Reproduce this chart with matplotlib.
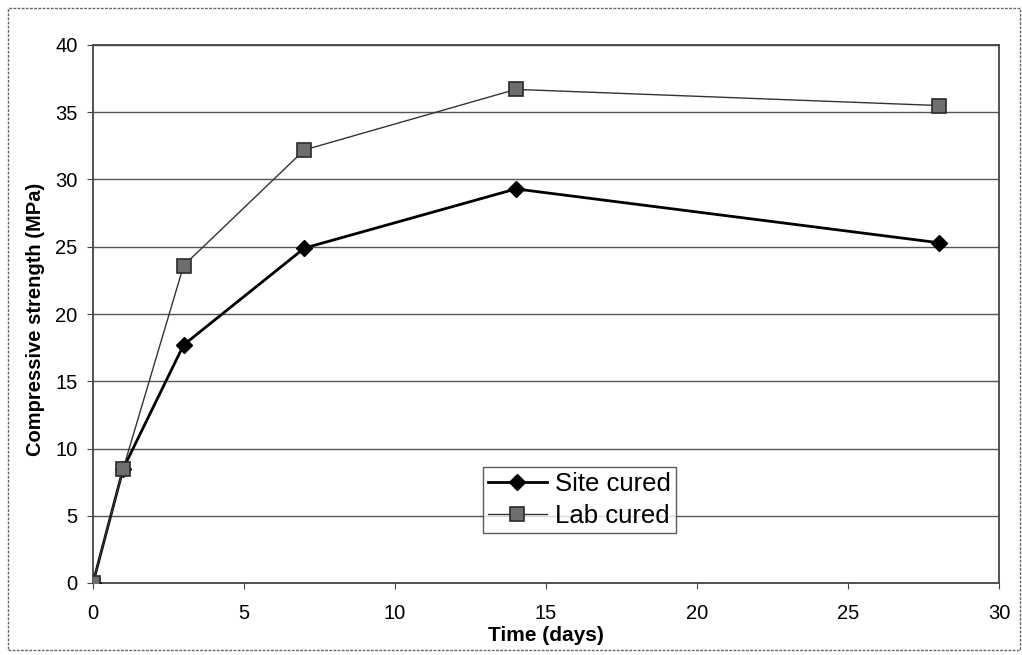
import matplotlib
matplotlib.use('Agg')
import matplotlib.pyplot as plt
from matplotlib.patches import Rectangle

# data
days = [0, 1, 3, 7, 14, 28]
site_cured = [0, 8.5, 17.7, 24.9, 29.3, 25.3]
lab_cured = [0, 8.5, 23.6, 32.2, 36.7, 35.5]

plt.rcParams['font.family'] = ['Liberation Sans', 'DejaVu Sans']

fig = plt.figure(figsize=(10.22, 6.55), dpi=100)
ax = fig.add_axes([93/1022, 1 - 583/655, 906/1022, 538/655])

ax.plot(days, site_cured, color='black', lw=2.0, marker='D', ms=8,
        mfc='black', mec='black', label='Site cured', zorder=3)
ax.plot(days, lab_cured, color='#333333', lw=1.0, marker='s', ms=10,
        mfc='#6e6e6e', mec='#2a2a2a', mew=1.2, label='Lab cured', zorder=4)

ax.set_xlim(0, 30)
ax.set_ylim(0, 40)
ax.set_xticks(range(0, 31, 5))
ax.set_yticks(range(0, 41, 5))
ax.yaxis.grid(True, color='#555555', lw=1.0)
ax.set_axisbelow(True)
for s in ax.spines.values():
    s.set_color('#444444')
    s.set_linewidth(1.3)
ax.tick_params(axis='both', labelsize=14.5, direction='out', length=4, color='#444444')
ax.tick_params(axis='x', pad=11)
ax.tick_params(axis='y', pad=7)

ax.set_xlabel('Time (days)', fontsize=15, fontweight='bold', va='top')
ax.xaxis.set_label_coords(0.5, -0.08)
ax.set_ylabel('Compressive strength (MPa)', fontsize=14.5, fontweight='bold', va='center')
ax.yaxis.set_label_coords(-0.064, 0.49)

leg = ax.legend(loc='lower left', bbox_to_anchor=(0.430, 0.093), borderaxespad=0,
                fontsize=18.5, frameon=True, fancybox=False, edgecolor='#333333',
                handlelength=2.3, borderpad=0.2, labelspacing=0.3, handletextpad=0.3)
leg.get_frame().set_linewidth(1.0)

# outer frame around the figure
fig.patches.append(Rectangle((8/1022, 5/655), 1012/1022, 642/655, transform=fig.transFigure,
                             fill=False, edgecolor='#666666', lw=1.0, ls=(0, (2, 1))))

plt.savefig('out.png', dpi=100)
